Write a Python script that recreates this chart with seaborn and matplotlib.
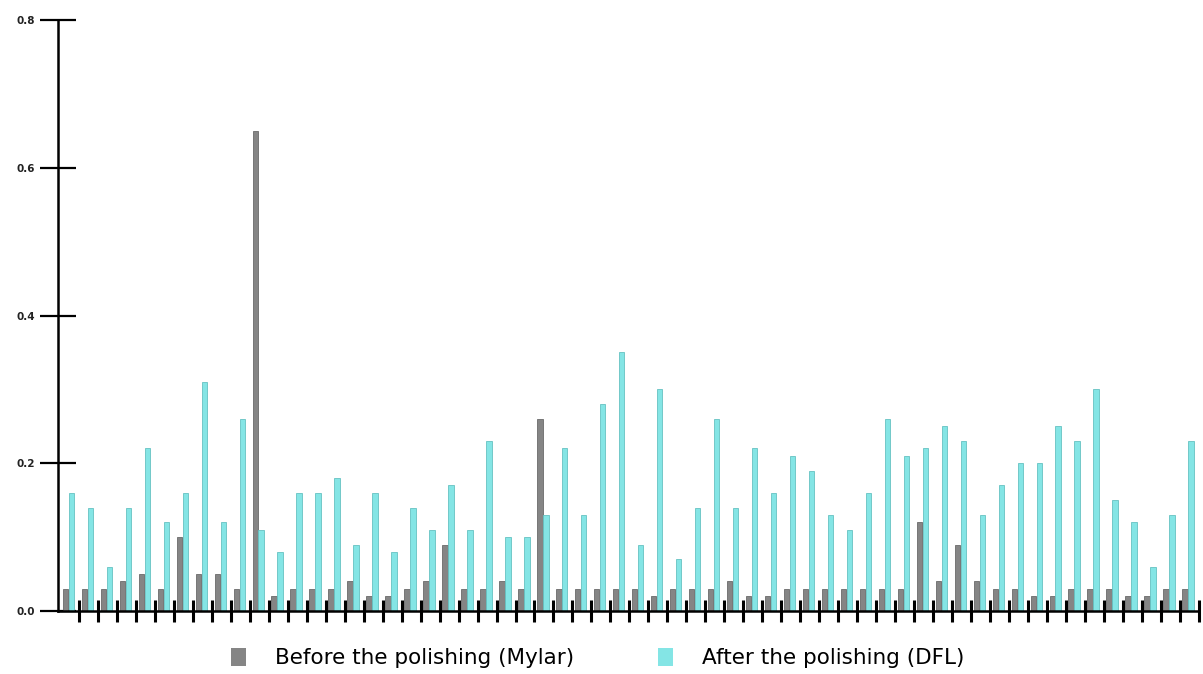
import matplotlib
matplotlib.use("Agg")
import matplotlib.pyplot as plt
import seaborn as sns
import pandas as pd
import numpy as np

# Surface roughness per sample, before and after polishing
samples = list(range(1, 61))
before_mylar = [0.03, 0.03, 0.03, 0.04, 0.05, 0.03, 0.10, 0.05, 0.05, 0.03,
                0.65, 0.02, 0.03, 0.03, 0.03, 0.04, 0.02, 0.02, 0.03, 0.04,
                0.09, 0.03, 0.03, 0.04, 0.03, 0.26, 0.03, 0.03, 0.03, 0.03,
                0.03, 0.02, 0.03, 0.03, 0.03, 0.04, 0.02, 0.02, 0.03, 0.03,
                0.03, 0.03, 0.03, 0.03, 0.03, 0.12, 0.04, 0.09, 0.04, 0.03,
                0.03, 0.02, 0.02, 0.03, 0.03, 0.03, 0.02, 0.02, 0.03, 0.03]
after_dfl = [0.16, 0.14, 0.06, 0.14, 0.22, 0.12, 0.16, 0.31, 0.12, 0.26,
             0.11, 0.08, 0.16, 0.16, 0.18, 0.09, 0.16, 0.08, 0.14, 0.11,
             0.17, 0.11, 0.23, 0.10, 0.10, 0.13, 0.22, 0.13, 0.28, 0.35,
             0.09, 0.30, 0.07, 0.14, 0.26, 0.14, 0.22, 0.16, 0.21, 0.19,
             0.13, 0.11, 0.16, 0.26, 0.21, 0.22, 0.25, 0.23, 0.13, 0.17,
             0.20, 0.20, 0.25, 0.23, 0.30, 0.15, 0.12, 0.06, 0.13, 0.23]
series_labels = ["Before the polishing (Mylar)", "After the polishing (DFL)"]
y_ticks = [0.0, 0.2, 0.4, 0.6, 0.8]
y_tick_labels = ["0.0", "0.2", "0.4", "0.6", "0.8"]

df = pd.DataFrame({
    "sample": samples * 2,
    "value": before_mylar + after_dfl,
    "stage": [series_labels[0]] * len(samples) + [series_labels[1]] * len(samples),
})

sns.set_style("white")
plt.rcParams["font.family"] = ["DejaVu Sans"]

fig = plt.figure(figsize=(12.03, 6.74), dpi=100)
ax = fig.add_axes([58 / 1203, 63 / 674, 1141.4 / 1203, 591 / 674])

palette = {series_labels[0]: "#858585", series_labels[1]: "#84E5E5"}
sns.barplot(data=df, x="sample", y="value", hue="stage", order=samples,
            hue_order=series_labels, palette=palette, width=0.63, gap=0.1,
            saturation=1, linewidth=0, ax=ax)

# thin darker outline on each bar
for cont, ec in zip(ax.containers, ["#6a6a6a", "#66C2C2"]):
    for bar in cont:
        bar.set_edgecolor(ec)
        bar.set_linewidth(0.6)

ax.set_xlim(-0.55, 59.6)
ax.set_ylim(0, 0.8)
ax.set_xlabel("")
ax.set_ylabel("")

ax.set_yticks(y_ticks)
ax.set_yticklabels(y_tick_labels, fontsize=7.5, fontweight="bold")
ax.tick_params(axis="y", left=True, direction="inout", length=26, width=1.6,
               color="black", pad=3.4, labelcolor="#222222")

ax.set_xticks(np.arange(len(samples)) + 0.56)
ax.set_xticklabels([])
ax.tick_params(axis="x", bottom=True, direction="inout", length=16.5,
               width=2.2, color="black")

for side in ["top", "right"]:
    ax.spines[side].set_visible(False)
for side in ["left", "bottom"]:
    ax.spines[side].set_color("black")
    ax.spines[side].set_linewidth(1.8)

handles, labels = ax.get_legend_handles_labels()
ax.legend_.remove()
leg = fig.legend(handles, labels, loc="center", ncol=2,
                 bbox_to_anchor=(598 / 1203, 1 - 658 / 674),
                 frameon=False, fontsize=15.5, handlelength=0.7,
                 handleheight=0.93, handletextpad=1.35, columnspacing=3.9)
for t in leg.get_texts():
    t.set_color("black")

fig.savefig("out.png", dpi=100)
